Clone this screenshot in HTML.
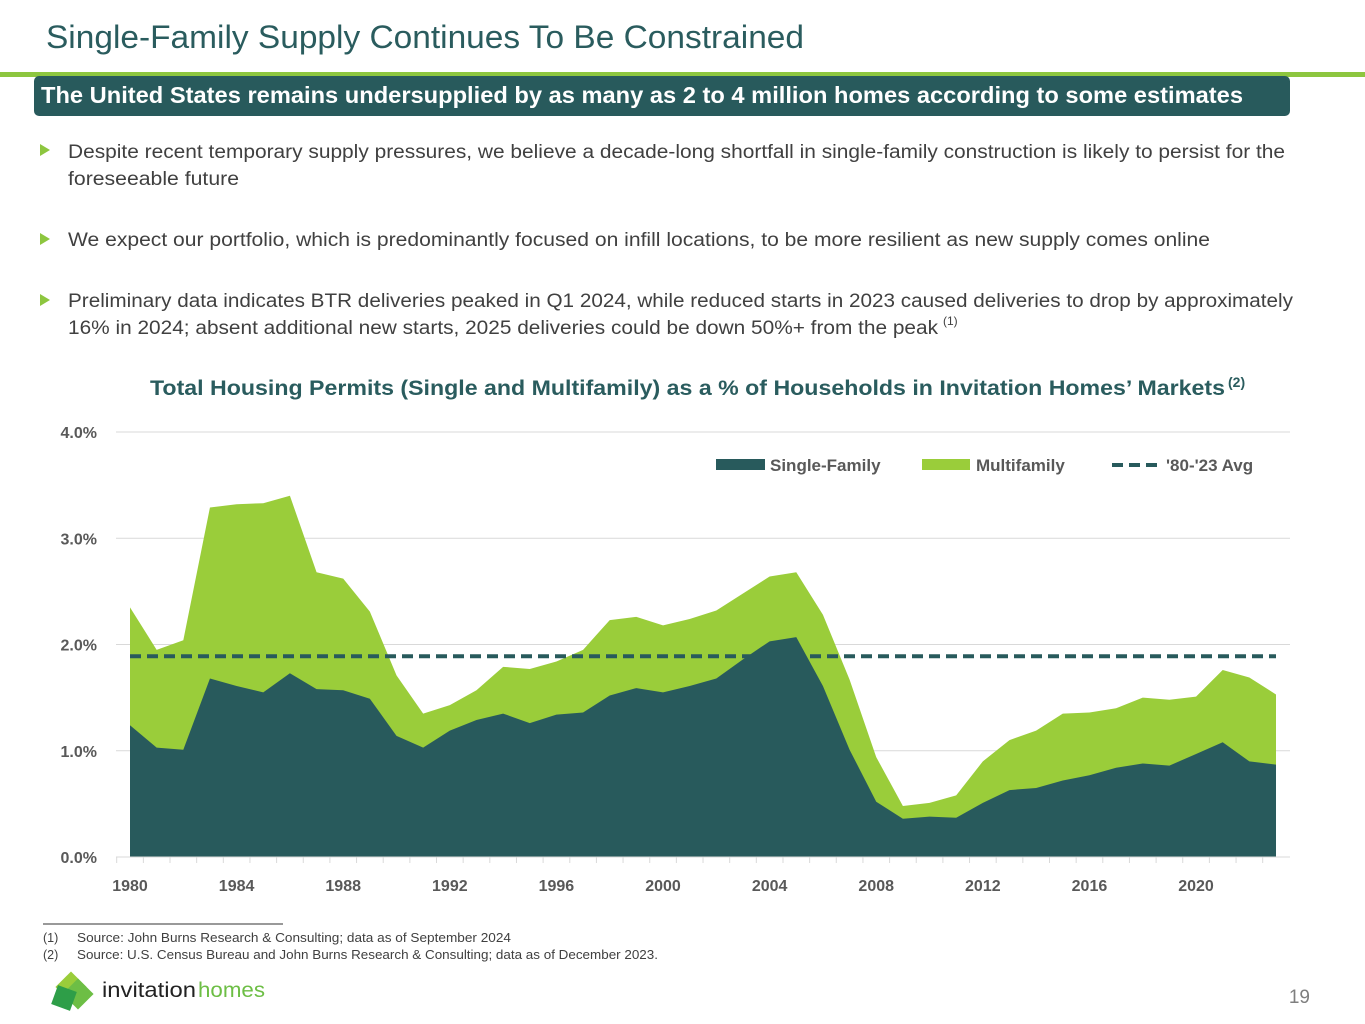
<!DOCTYPE html>
<html><head><meta charset="utf-8"><style>
html,body{margin:0;padding:0;background:#fff}
svg{display:block}
text{font-family:"Liberation Sans",sans-serif}
</style></head><body>
<svg id="page" width="1365" height="1024" viewBox="0 0 1365 1024" xmlns="http://www.w3.org/2000/svg">
<text x="46" y="48" font-size="32" fill="#2A5C5E" textLength="758" lengthAdjust="spacingAndGlyphs">Single-Family Supply Continues To Be Constrained</text>
<rect x="0" y="72" width="1365" height="5" fill="#8DC63F"/>
<rect x="34" y="76" width="1256" height="40" rx="5" fill="#285A5C"/>
<text x="41" y="103" font-size="23" font-weight="bold" fill="#fff" textLength="1202" lengthAdjust="spacingAndGlyphs">The United States remains undersupplied by as many as 2 to 4 million homes according to some estimates</text>
<g font-size="19" fill="#404040">
<polygon points="40,144 50,150 40,156" fill="#8DC63F"/>
<text x="68" y="158" textLength="1217" lengthAdjust="spacingAndGlyphs">Despite recent temporary supply pressures, we believe a decade-long shortfall in single-family construction is likely to persist for the</text>
<text x="68" y="185" textLength="171" lengthAdjust="spacingAndGlyphs">foreseeable future</text>
<polygon points="40,233 50,239 40,245" fill="#8DC63F"/>
<text x="68" y="246" textLength="1142" lengthAdjust="spacingAndGlyphs">We expect our portfolio, which is predominantly focused on infill locations, to be more resilient as new supply comes online</text>
<polygon points="40,294 50,300 40,306" fill="#8DC63F"/>
<text x="68" y="307" textLength="1225" lengthAdjust="spacingAndGlyphs">Preliminary data indicates BTR deliveries peaked in Q1 2024, while reduced starts in 2023 caused deliveries to drop by approximately</text>
<text x="68" y="334" textLength="870" lengthAdjust="spacingAndGlyphs">16% in 2024; absent additional new starts, 2025 deliveries could be down 50%+ from the peak</text>
<text x="943" y="325" font-size="12">(1)</text>
</g>
<text x="150" y="395" font-size="21" font-weight="bold" fill="#2A5C5E" textLength="1075" lengthAdjust="spacingAndGlyphs">Total Housing Permits (Single and Multifamily) as a % of Households in Invitation Homes’ Markets</text>
<text x="1228" y="387" font-size="14" font-weight="bold" fill="#2A5C5E">(2)</text>
<g id="chart"></g>
<g font-size="17" font-weight="bold" fill="#595959">
<rect x="716" y="459" width="49" height="11" fill="#285A5C"/>
<text x="770" y="471">Single-Family</text>
<rect x="922" y="459" width="48" height="11" fill="#9ACD3A"/>
<text x="976" y="471">Multifamily</text>
<line x1="1112" y1="465" x2="1158" y2="465" stroke="#285A5C" stroke-width="4" stroke-dasharray="11,6"/>
<text x="1166" y="471">'80-'23 Avg</text>
</g>
<line x1="43" y1="924" x2="283" y2="924" stroke="#333" stroke-width="1"/>
<g font-size="12.5" fill="#404040">
<text x="43" y="942">(1)</text>
<text x="77" y="942" textLength="434" lengthAdjust="spacingAndGlyphs">Source: John Burns Research &amp; Consulting; data as of September 2024</text>
<text x="43" y="959">(2)</text>
<text x="77" y="959" textLength="581" lengthAdjust="spacingAndGlyphs">Source: U.S. Census Bureau and John Burns Research &amp; Consulting; data as of December 2023.</text>
</g>
<g>
<rect x="60" y="976" width="22" height="22" fill="#9ACD3A" transform="rotate(45 71 987)"/>
<rect x="67" y="983" width="22" height="22" fill="#6DBE45" transform="rotate(45 78 994)"/>
<rect x="54" y="988" width="20" height="20" fill="#2E9E48" transform="rotate(20 64 998)"/>
<text x="102" y="997" font-size="21" fill="#222" textLength="94" lengthAdjust="spacingAndGlyphs">invitation</text>
<text x="198" y="997" font-size="21" fill="#6DBE45" textLength="67" lengthAdjust="spacingAndGlyphs">homes</text>
</g>
<text x="1310" y="1003" font-size="19" fill="#7F7F7F" text-anchor="end">19</text>
</svg>
<script>
const years = [1980,1981,1982,1983,1984,1985,1986,1987,1988,1989,1990,1991,1992,1993,1994,1995,1996,1997,1998,1999,2000,2001,2002,2003,2004,2005,2006,2007,2008,2009,2010,2011,2012,2013,2014,2015,2016,2017,2018,2019,2020,2021,2022,2023];
const singleFamily = [1.24,1.03,1.01,1.68,1.61,1.55,1.73,1.58,1.57,1.49,1.14,1.03,1.19,1.29,1.35,1.26,1.34,1.36,1.52,1.59,1.55,1.61,1.68,1.86,2.03,2.07,1.61,1.01,0.52,0.36,0.38,0.37,0.51,0.63,0.65,0.72,0.77,0.84,0.88,0.86,0.97,1.08,0.90,0.87];
const totalPermits = [2.35,1.95,2.04,3.29,3.32,3.33,3.40,2.68,2.62,2.31,1.71,1.35,1.43,1.57,1.79,1.77,1.84,1.95,2.23,2.26,2.18,2.24,2.32,2.48,2.64,2.68,2.28,1.67,0.94,0.48,0.51,0.58,0.90,1.10,1.19,1.35,1.36,1.40,1.50,1.48,1.51,1.76,1.69,1.53];
const average = 1.89;
const yTicks = [0,1,2,3,4];
const yTickLabels = ["0.0%","1.0%","2.0%","3.0%","4.0%"];
const xTickYears = [1980,1984,1988,1992,1996,2000,2004,2008,2012,2016,2020];

(function(){
const NS="http://www.w3.org/2000/svg";
const g=document.getElementById('chart');
const X0=130,X1=1276,Y0=857,PER=106.25;
const x=yr=>X0+(yr-years[0])*(X1-X0)/(years[years.length-1]-years[0]);
const y=v=>Y0-v*PER;
function mk(t,a){const e=document.createElementNS(NS,t);for(const k in a)e.setAttribute(k,a[k]);g.appendChild(e);return e;}
yTicks.forEach((v,i)=>{
  if(v>0){const l=mk('line',{x1:116,x2:1290,y1:y(v),y2:y(v),stroke:'#D9D9D9','stroke-width':1});
  
  }
  const t=mk('text',{x:97,y:y(v)+6,'font-size':16,'font-weight':'bold',fill:'#595959','text-anchor':'end'});
  t.textContent=yTickLabels[i];
  
  
});
const totPts=totalPermits.map((v,i)=>x(years[i])+','+y(v)).join(' ');
const mf=mk('polygon',{points:x(years[0])+','+Y0+' '+totPts+' '+x(years[years.length-1])+','+Y0,fill:'#9ACD3A'});


const sfPts=singleFamily.map((v,i)=>x(years[i])+','+y(v)).join(' ');
const sf=mk('polygon',{points:x(years[0])+','+Y0+' '+sfPts+' '+x(years[years.length-1])+','+Y0,fill:'#285A5C'});


const av=mk('line',{x1:x(years[0]),x2:x(years[years.length-1]),y1:y(average),y2:y(average),stroke:'#285A5C','stroke-width':4,'stroke-dasharray':'11,6'});


const ax=mk('line',{x1:116,x2:1290,y1:Y0,y2:Y0,stroke:'#D9D9D9','stroke-width':1});


years.forEach(yr=>{
  const tk=mk('line',{x1:x(yr)-13.3,x2:x(yr)-13.3,y1:Y0,y2:Y0+6,stroke:'#D9D9D9'});
  
  
});
xTickYears.forEach(yr=>{
  const t=mk('text',{x:x(yr),y:891,'font-size':16,'font-weight':'bold',fill:'#595959','text-anchor':'middle'});
  t.textContent=yr;
  
  
});
})();
</script>
</body></html>
